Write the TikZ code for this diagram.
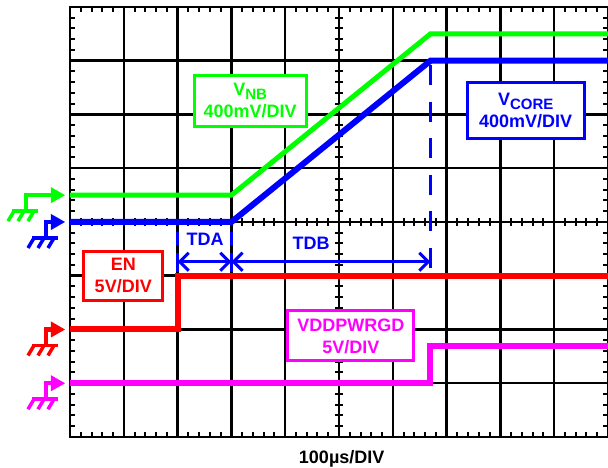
\documentclass[tikz,border=0pt]{standalone}
\usepackage{fontspec}
\setmainfont{Liberation Sans}
\usetikzlibrary{arrows.meta}
\definecolor{chmag}{RGB}{255,0,255}
\definecolor{chgreen}{RGB}{0,255,0}
\definecolor{chblue}{RGB}{0,0,255}
\definecolor{chred}{RGB}{255,0,0}
\newcommand{\chsub}[1]{\raisebox{-4pt}{\fontsize{15}{15}\selectfont #1}}

\begin{document}
\begin{tikzpicture}[x=53.8pt,y=53.75pt,
  font=\fontsize{18}{22}\selectfont\bfseries,
  gridl/.style={line width=2.5pt},
  tickl/.style={line width=2pt},
  trace/.style={line width=6pt},
  scopebox/.style={draw=#1,text=#1,line width=3pt,fill=white,align=center,inner sep=0pt},
  dimline/.style={chblue,line width=3pt,{Straight Barb[length=9pt,width=18pt]}-{Straight Barb[length=9pt,width=18pt]}},
  extline/.style={chblue,line width=3pt,dash pattern=on 13pt off 8pt on 19pt off 8pt}]
\useasboundingbox (-70pt,-31pt) rectangle (538pt,437pt);
% screen grid
\foreach \i in {1,...,9}
  \draw[gridl] (\i,0) -- (\i,8);
\foreach \j in {1,...,7}
  \draw[gridl] (0,\j) -- (10,\j);
\draw[gridl] (0,0) rectangle (10,8);
\foreach \i in {0.2,0.4,...,9.9} {
  \draw[tickl] (\i,8) -- ++(0,-5pt);
  \draw[tickl] (\i,0) -- ++(0,5pt);
  \draw[tickl] (\i,4) ++(0,-4pt) -- ++(0,8pt);
}
\foreach \j in {0.2,0.4,...,7.9} {
  \draw[tickl] (0,\j) -- ++(5pt,0);
  \draw[tickl] (10,\j) -- ++(-5pt,0);
  \draw[tickl] (5,\j) ++(-4pt,0) -- ++(8pt,0);
}
% traces
\draw[trace,chmag] (0,1) -- (6.7,1) -- (6.7,1.7) -- (10,1.7);
\draw[trace,chred] (0,2) -- (2,2) -- (2,3) -- (10,3);
\draw[trace,chgreen,line width=5pt] (0,4.5) -- (3,4.5) -- (6.7,7.5) -- (10,7.5);
\draw[trace,chblue] (0,4) -- (3,4) -- (6.7,7) -- (10,7);
% timing marks
\draw[chblue,line width=3pt,dash pattern=on 20pt off 16.5pt] (6.7,6.92) -- (6.7,3.14);
\draw[extline] (2,3.81) -- (2,3.07);
\draw[extline] (3,3.81) -- (3,3.07);
\coordinate (ta) at (2,3.26);
\coordinate (tb) at (3,3.26);
\coordinate (tc) at (6.7,3.26);
\draw[dimline] (ta) -- (tb);
\draw[dimline] (tb) -- (tc);
\node[chblue] (tda) at (2.51,3.67) {TDA};
\node[chblue] (tdb) at (4.48,3.61) {TDB};
% channel labels
\node[scopebox=chgreen,minimum width=112pt,minimum height=51pt] (nb) at (3.35,6.26) {V\chsub{NB}\\400mV/DIV};
\node[scopebox=chblue,minimum width=117pt,minimum height=56pt] (core) at (8.47,6.07) {V\chsub{CORE}\\400mV/DIV};
\node[scopebox=chred,minimum width=79pt,minimum height=49pt] (en) at (0.99,3.0) {EN\\5V/DIV};
\node[scopebox=chmag,minimum width=126pt,minimum height=50pt] (pwrgd) at (5.22,1.88) {VDDPWRGD\\5V/DIV};
\node[anchor=base] (timebase) at (5.05,-0.484) {100µs/DIV};
% ground markers
\foreach \col/\yy/\sx in {chgreen/4.5/-44,chblue/4/-24,chred/2/-24,chmag/1/-24} {
  \begin{scope}[shift={(0,\yy)},x=1pt,y=1pt,color=\col]
    \draw[line width=4.5pt] (\sx-2,0) -- (-17,0);
    \fill (-19,8) -- (-5,0) -- (-19,-8) -- cycle;
    \draw[line width=4pt] (\sx,0) -- (\sx,-16);
    \draw[line width=3.5pt] (\sx-14,-16) -- (\sx+12,-16);
    \foreach \d in {-12,-2,8}
      \draw[line width=3.5pt] (\sx+\d,-16) -- ++(-6,-10);
  \end{scope}
}
\end{tikzpicture}
\end{document}
